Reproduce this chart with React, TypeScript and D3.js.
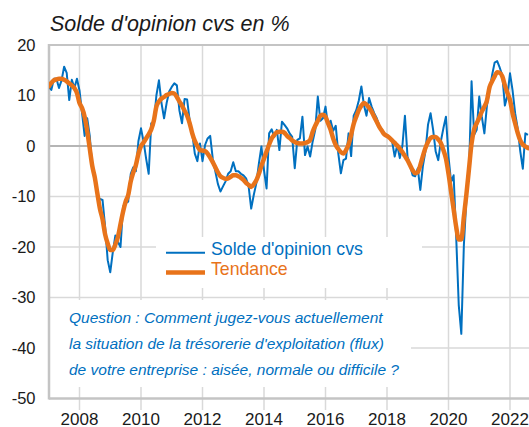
import React, { useEffect, useRef } from "react";
import * as d3 from "d3";

// séries mensuelles, de janvier 2007 à juillet 2022
const START_YEAR = 2007;

const soldeCvs = [
  11.8, 11.1, 13.3, 13.3, 11.5, 13, 15.7, 14.5, 9.1, 13.1, 11.5, 13.3, // 2007
  11, 6.5, 2, 5.5, 2, -4.4, -6, -10, -10.5, -10.7, -16, -22.6, // 2008
  -25, -21, -17.7, -19, -20, -12, -11.3, -11, -5.5, -4.2, -5, 1, // 2009
  3.5, 0.9, -2.5, -5.5, 4.5, 4.5, 10, 13, 8.5, 5.5, 8.5, 10.8, // 2010
  11.7, 12.4, 12, 7, 4.5, 9.3, 9.2, 5, 2.5, -1.5, -3, 0.5, // 2011
  -3, 0.2, 1.5, 2, -2.5, -5, -7.5, -9, -8, -7, -5.5, -5, // 2012
  -3.2, -5, -5, -5.5, -5.8, -6.4, -8, -12.4, -9.7, -7.4, -3.5, -0.1, // 2013
  -4.8, -8.4, 2.5, 3.3, 1.8, 3.2, -0.8, 4.8, 4.2, 3.5, 2.5, 1.8, // 2014
  -4.4, 1.2, 1.5, 5.8, -1.8, -0.1, -2.1, 0.9, 3.2, 9.8, 5, 5.5, // 2015
  7.8, 4, 5, 3, 4, -1.5, -5.4, -2.8, -2.5, 2.5, -2, 6, // 2016
  7.1, 9, 11.8, 8.1, 6, 9.5, 7.8, 6.5, 5.5, 4, 3.2, 2.4, // 2017
  2.2, 1.5, 0.9, -2.1, 0.2, -2.4, 0, 6, -2.1, -3.8, -5.8, -6, // 2018
  -4.4, -8.7, -4, -1, 4.2, 6.5, 3.2, -1.1, -2.8, 0.9, 3.5, 5.8, // 2019
  -2.1, -7.1, -5.8, -18, -31.5, -37.2, -19.6, -10.4, -5.1, 12.8, 2.2, 3.2, // 2020
  9.8, 5.8, 2.5, 8, 11, 14, 16.5, 16.8, 15.5, 14, 8, 10, // 2021
  14.4, 11, 6.5, 3.5, -1, -4.5, 2.5, 2.2, // 2022
];

const tendance = [
  11.8, 12.5, 13, 13.2, 13.3, 13.3, 13.1, 12.8, 12.4, 12, 11.5, 10.5, // 2007
  8.5, 7.5, 5.8, 3, -0.5, -4, -6.3, -9.5, -12.5, -14.5, -17.5, -19.3, // 2008
  -20.6, -20.6, -19.5, -18, -15.5, -13, -11, -9.7, -7, -5.2, -3.8, -1.5, // 2009
  0, 0.7, 1.5, 2.3, 3.3, 5, 7.8, 8.8, 9.4, 9.7, 10.1, 10.3, // 2010
  10.5, 10.4, 9.7, 8.8, 8, 7, 6, 4.5, 2.5, 1, 0, -0.8, // 2011
  -0.9, -1, -1.5, -2.3, -3.2, -4.2, -5.2, -6, -6.3, -6.5, -6.4, -6.1, // 2012
  -5.8, -5.8, -6, -6.3, -6.7, -7.3, -7.7, -8.1, -7.6, -6.8, -5.5, -3.9, // 2013
  -2.5, -1.1, 0.3, 1.5, 2.2, 2.7, 2.8, 2.8, 2.6, 2, 1.6, 1.1, // 2014
  0.8, 0.6, 0.5, 0.5, 0.6, 0.8, 1.2, 2.8, 4, 5, 6, 6.2, // 2015
  5.8, 4.5, 3.2, 1.5, 0.2, -0.6, -1.2, -1.5, -0.8, 0.3, 2.2, 4.4, // 2016
  5.8, 7.1, 8, 8.5, 8.2, 7.6, 6.8, 5.8, 4.8, 3.8, 3, 2.3, // 2017
  2, 1.6, 1.1, 0.6, 0.1, -0.5, -1.2, -2, -2.8, -3.8, -4.8, -5.4, // 2018
  -5.2, -3.8, -2, -0.4, 0.8, 1.6, 1.8, 1.8, 1.3, 0.6, -0.8, -2.5, // 2019
  -5.5, -9, -12.5, -16, -18.5, -18.5, -14, -9.5, -4.5, 0.5, 3.3, 4.5, // 2020
  5.6, 6.8, 7.8, 9, 11.6, 12.8, 13.8, 14.6, 14.5, 13.8, 12, 10.5, // 2021
  9.1, 6.5, 4.5, 2.6, 1.1, 0.3, -0.1, -0.4, // 2022
];

const yTicks = [20, 10, 0, -10, -20, -30, -40, -50];
const xTickYears = [2008, 2010, 2012, 2014, 2016, 2018, 2020, 2022];

const chartTitle = "Solde d'opinion cvs en %";
const legendLabels = ["Solde d'opinion cvs", "Tendance"];
const questionLines = [
  "Question : Comment jugez-vous actuellement",
  "la situation de la trésorerie d'exploitation (flux)",
  "de votre entreprise : aisée, normale ou difficile ?",
];

const BLUE = "#0070c0";
const ORANGE = "#e8731a";
const GRID = "#d9d9d9";
const AXIS = "#c4c4c4";
const FONT = "'Liberation Sans', Arial, sans-serif";

function App() {
  const svgRef = useRef(null);

  const width = 529;
  const height = 427;
  const left = 49;            // axe vertical
  const right = 529;

  useEffect(() => {
    const svg = d3.select(svgRef.current);
    svg.selectAll("*").remove();

    const x = d3.scaleLinear().domain([2008, 2022]).range([79.5, 510]);
    const y = d3.scaleLinear().domain([-50, 20]).range([398.5, 45]);

    const toPoints = (arr) => arr.map((v, i) => ({ t: START_YEAR + i / 12, v }));

    // grille horizontale
    svg.append("g")
      .selectAll("line")
      .data(yTicks.filter((d) => d !== 0 && d !== 20 && d !== -50))
      .join("line")
      .attr("x1", left).attr("x2", right)
      .attr("y1", (d) => y(d)).attr("y2", (d) => y(d))
      .attr("stroke", GRID).attr("stroke-width", 1.5);

    // grille verticale + graduations sous l'axe
    svg.append("g")
      .selectAll("line")
      .data(xTickYears)
      .join("line")
      .attr("x1", (d) => x(d)).attr("x2", (d) => x(d))
      .attr("y1", y(20)).attr("y2", 410)
      .attr("stroke", GRID).attr("stroke-width", 1.5);

    // cadres blancs de la légende et de la question
    svg.append("rect").attr("x", 156).attr("y", 237).attr("width", 266).attr("height", 51).attr("fill", "white");
    svg.append("rect").attr("x", 50).attr("y", 300).attr("width", 361).attr("height", 87).attr("fill", "white");

    // lignes 20 et 0, axes
    svg.append("line").attr("x1", left).attr("x2", right).attr("y1", y(20)).attr("y2", y(20))
      .attr("stroke", AXIS).attr("stroke-width", 2);
    svg.append("line").attr("x1", left).attr("x2", right).attr("y1", y(0)).attr("y2", y(0))
      .attr("stroke", "#b5b5b5").attr("stroke-width", 2);
    svg.append("line").attr("x1", left).attr("x2", left).attr("y1", y(20) - 1).attr("y2", y(-50) + 1)
      .attr("stroke", AXIS).attr("stroke-width", 2.5);
    svg.append("line").attr("x1", left).attr("x2", right).attr("y1", y(-50)).attr("y2", y(-50))
      .attr("stroke", AXIS).attr("stroke-width", 2.5);

    svg.append("clipPath").attr("id", "plot-clip")
      .append("rect").attr("x", left).attr("y", y(20) - 5).attr("width", right - left).attr("height", y(-50) - y(20) + 5);

    const line = d3.line().x((d) => x(d.t)).y((d) => y(d.v));

    svg.append("path")
      .datum(toPoints(soldeCvs))
      .attr("clip-path", "url(#plot-clip)")
      .attr("d", line)
      .attr("fill", "none").attr("stroke", BLUE).attr("stroke-width", 2)
      .attr("stroke-linejoin", "round");

    svg.append("path")
      .datum(toPoints(tendance))
      .attr("clip-path", "url(#plot-clip)")
      .attr("d", line.curve(d3.curveMonotoneX))
      .attr("fill", "none").attr("stroke", ORANGE).attr("stroke-width", 4.5)
      .attr("stroke-linejoin", "round").attr("stroke-linecap", "round");

    // étiquettes des axes
    svg.append("g")
      .selectAll("text")
      .data(yTicks)
      .join("text")
      .attr("x", 35.5).attr("y", (d) => y(d)).attr("dy", "0.35em")
      .attr("text-anchor", "end")
      .attr("font-family", FONT).attr("font-size", 16.5).attr("fill", "#1a1a1a")
      .text((d) => d);

    svg.append("g")
      .selectAll("text")
      .data(xTickYears)
      .join("text")
      .attr("x", (d) => x(d)).attr("y", 424.5)
      .attr("text-anchor", "middle")
      .attr("font-family", FONT).attr("font-size", 17).attr("fill", "#1a1a1a")
      .text((d) => d);

    // titre
    svg.append("text")
      .attr("x", 50).attr("y", 31)
      .attr("font-family", FONT).attr("font-size", 21.5).attr("font-style", "italic").attr("fill", "#1a1a1a")
      .text(chartTitle);

    // légende
    const legendColors = [BLUE, ORANGE];
    const legendWidths = [2, 4.5];
    const legendY = [252.7, 272.5];
    legendLabels.forEach((label, i) => {
      svg.append("line")
        .attr("x1", 166).attr("x2", 205).attr("y1", legendY[i]).attr("y2", legendY[i])
        .attr("stroke", legendColors[i]).attr("stroke-width", legendWidths[i]);
      svg.append("text")
        .attr("x", 211).attr("y", legendY[i] + 2.6)
        .attr("font-family", FONT).attr("font-size", 17.7).attr("fill", legendColors[i])
        .text(label);
    });

    // question
    svg.append("g")
      .selectAll("text")
      .data(questionLines)
      .join("text")
      .attr("x", 69).attr("y", (d, i) => 323 + i * 26)
      .attr("font-family", FONT).attr("font-size", 15.5).attr("font-style", "italic").attr("fill", BLUE)
      .text((d) => d);
  }, []);

  return (
    <svg
      ref={svgRef}
      width={width}
      height={height}
      style={{ position: "absolute", left: 0, top: 0, background: "white" }}
    ></svg>
  );
}

export default App;
